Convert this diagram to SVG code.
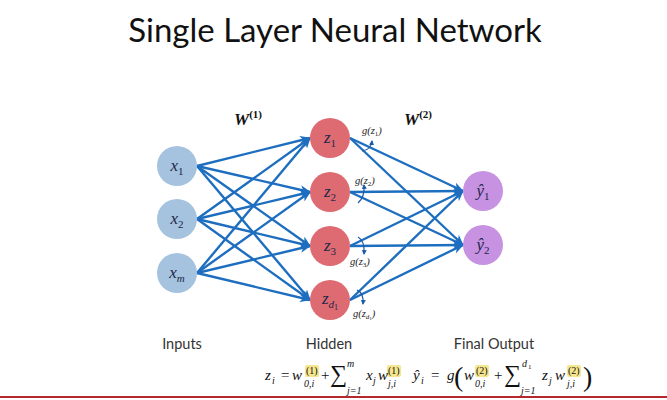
<svg xmlns="http://www.w3.org/2000/svg" width="667" height="400" viewBox="0 0 667 400">
<style>
.title{font-family:Lato,"Open Sans",sans-serif;font-size:33px;fill:#111}
.lab{font-family:Lato,"Open Sans",sans-serif;font-size:14.5px;fill:#333}
.nt{font-family:"Liberation Serif","DejaVu Serif",serif;font-style:italic;font-size:17px;fill:#1d2748}
.sub{font-style:normal;font-size:11px}
.e{stroke:#1e6ec0;stroke-width:2.4;fill:none;marker-end:url(#ah)}
.W{font-family:"Liberation Serif","DejaVu Serif",serif;font-style:italic;font-weight:bold;font-size:17px;fill:#111}
.g{font-family:"Liberation Serif","DejaVu Serif",serif;font-style:italic;font-size:10.5px;fill:#222}
.act{stroke:#1e5aa8;stroke-width:1.2;fill:none;marker-end:url(#ah2)}
.eq{font-family:"Liberation Serif","DejaVu Serif",serif;font-style:italic;font-size:15px;fill:#111}
.eqn{font-family:"Liberation Serif","DejaVu Serif",serif;font-size:15px;fill:#111}
.s{font-size:10px}
.hl{fill:#f5e27a;opacity:0.85}
</style>
<defs>
<marker id="ah" markerUnits="userSpaceOnUse" markerWidth="11" markerHeight="9" refX="10" refY="4.5" orient="auto">
<path d="M0,0 L11,4.5 L0,9 L3,4.5 z" fill="#1e6ec0"/>
</marker>
<marker id="ah2" markerUnits="userSpaceOnUse" markerWidth="5" markerHeight="5" refX="4" refY="2.5" orient="auto">
<path d="M0,0 L5,2.5 L0,5 z" fill="#1e5aa8"/>
</marker>
</defs>
<rect width="667" height="400" fill="#fff"/>
<text class="title" x="335" y="42" text-anchor="middle">Single Layer Neural Network</text>

<g id="connectors">
<path class="e" d="M197,166 L310,138"/>
<path class="e" d="M197,166 L310,192"/>
<path class="e" d="M197,166 L310,246"/>
<path class="e" d="M197,166 L310,300"/>
<path class="e" d="M197,219 L310,138"/>
<path class="e" d="M197,219 L310,192"/>
<path class="e" d="M197,219 L310,246"/>
<path class="e" d="M197,219 L310,300"/>
<path class="e" d="M197,273 L310,138"/>
<path class="e" d="M197,273 L310,192"/>
<path class="e" d="M197,273 L310,246"/>
<path class="e" d="M197,273 L310,300"/>
<path class="e" d="M350,138 L463,191"/>
<path class="e" d="M350,138 L463,245"/>
<path class="e" d="M350,192 L463,191"/>
<path class="e" d="M350,192 L463,245"/>
<path class="e" d="M350,246 L463,191"/>
<path class="e" d="M350,246 L463,245"/>
<path class="e" d="M350,300 L463,191"/>
<path class="e" d="M350,300 L463,245"/>
</g>

<g id="x1"><circle cx="177" cy="166" r="20" fill="#a5c2df"/><text class="nt" x="177" y="171" text-anchor="middle">x<tspan class="sub" dy="4">1</tspan></text></g>
<g id="x2"><circle cx="177" cy="219" r="20" fill="#a5c2df"/><text class="nt" x="177" y="224" text-anchor="middle">x<tspan class="sub" dy="4">2</tspan></text></g>
<g id="xm"><circle cx="177" cy="273" r="20" fill="#a5c2df"/><text class="nt" x="177" y="278" text-anchor="middle">x<tspan class="sub" style="font-style:italic" dy="4">m</tspan></text></g>

<g id="z1"><circle cx="330" cy="138" r="20" fill="#de6b72"/><text class="nt" x="330" y="143" text-anchor="middle">z<tspan class="sub" dy="4">1</tspan></text></g>
<g id="z2"><circle cx="330" cy="192" r="20" fill="#de6b72"/><text class="nt" x="330" y="197" text-anchor="middle">z<tspan class="sub" dy="4">2</tspan></text></g>
<g id="z3"><circle cx="330" cy="246" r="20" fill="#de6b72"/><text class="nt" x="330" y="251" text-anchor="middle">z<tspan class="sub" dy="4">3</tspan></text></g>
<g id="zd1"><circle cx="330" cy="300" r="20" fill="#de6b72"/><text class="nt" x="330" y="304" text-anchor="middle">z<tspan class="sub" style="font-style:italic" dy="4">d</tspan><tspan style="font-style:normal;font-size:8px" dy="2">1</tspan></text></g>

<g id="y1"><circle cx="483" cy="191" r="20" fill="#c792e2"/><text class="nt" x="483" y="196" text-anchor="middle">ŷ<tspan class="sub" dy="4">1</tspan></text></g>
<g id="y2"><circle cx="483" cy="245" r="20" fill="#c792e2"/><text class="nt" x="483" y="250" text-anchor="middle">ŷ<tspan class="sub" dy="4">2</tspan></text></g>

<g id="weights">
<text class="W" x="234" y="125">W<tspan style="font-size:11px;font-style:normal" dy="-7">(1)</tspan></text>
<text class="W" x="404" y="125">W<tspan style="font-size:11px;font-style:normal" dy="-7">(2)</tspan></text>
</g>

<g id="activations">
<path class="act" d="M362,151 Q371,150 372,141"/>
<text class="g" x="362" y="134">g(z<tspan style="font-size:7px;font-style:normal" dy="2">1</tspan><tspan dy="-2">)</tspan></text>
<path class="act" d="M358,203 Q365,197 364,185"/>
<text class="g" x="355" y="184">g(z<tspan style="font-size:7px;font-style:normal" dy="2">2</tspan><tspan dy="-2">)</tspan></text>
<path class="act" d="M358,237 Q365,241 364,254"/>
<text class="g" x="350" y="265">g(z<tspan style="font-size:7px;font-style:normal" dy="2">3</tspan><tspan dy="-2">)</tspan></text>
<path class="act" d="M357,290 Q364,293 363,304"/>
<text class="g" x="353" y="317">g(z<tspan style="font-size:7px" dy="2">d</tspan><tspan style="font-size:5px;font-style:normal" dy="1">1</tspan><tspan dy="-3">)</tspan></text>
</g>

<g id="labels">
<text class="lab" x="182" y="349" text-anchor="middle">Inputs</text>
<text class="lab" x="329" y="349" text-anchor="middle">Hidden</text>
<text class="lab" x="494" y="349" text-anchor="middle">Final Output</text>
</g>

<g id="equations">
<rect class="hl" x="305" y="365" width="14" height="12" rx="2"/>
<rect class="hl" x="387" y="365" width="14" height="12" rx="2"/>
<rect class="hl" x="475" y="365" width="14" height="12" rx="2"/>
<rect class="hl" x="567" y="365" width="14" height="12" rx="2"/>
<text class="eq" x="265" y="380">z</text><text class="eq s" x="272" y="384">i</text>
<text class="eqn" x="281" y="380">=</text>
<text class="eq" x="292" y="380">w</text>
<text class="eqn s" x="306" y="374">(1)</text><text class="eq s" x="304" y="387">0,i</text>
<text class="eqn" x="321" y="380">+</text>
<text class="eqn" x="330" y="382" style="font-size:24px">∑</text>
<text class="eq s" x="347" y="367">m</text><text class="eq s" x="347" y="394">j=1</text>
<text class="eq" x="366" y="380">x</text><text class="eq s" x="373" y="384">j</text>
<text class="eq" x="378" y="380">w</text>
<text class="eqn s" x="388" y="374">(1)</text><text class="eq s" x="388" y="387">j,i</text>

<text class="eq" x="413" y="380">ŷ</text><text class="eq s" x="421" y="384">i</text>
<text class="eqn" x="431" y="380">=</text>
<text class="eq" x="447" y="380">g</text>
<text class="eqn" x="454" y="386" style="font-size:28px">(</text>
<text class="eq" x="464" y="380">w</text>
<text class="eqn s" x="476" y="374">(2)</text><text class="eq s" x="475" y="387">0,i</text>
<text class="eqn" x="494" y="380">+</text>
<text class="eqn" x="504" y="382" style="font-size:24px">∑</text>
<text class="eq s" x="522" y="367">d</text><text class="eqn" x="528" y="369" style="font-size:7px">1</text>
<text class="eq s" x="521" y="394">j=1</text>
<text class="eq" x="542" y="380">z</text><text class="eq s" x="549" y="384">j</text>
<text class="eq" x="555" y="380">w</text>
<text class="eqn s" x="568" y="374">(2)</text><text class="eq s" x="567" y="387">j,i</text>
<text class="eqn" x="583" y="386" style="font-size:28px">)</text>
</g>

<rect x="0" y="396" width="667" height="2" fill="#b5292e"/>
</svg>
